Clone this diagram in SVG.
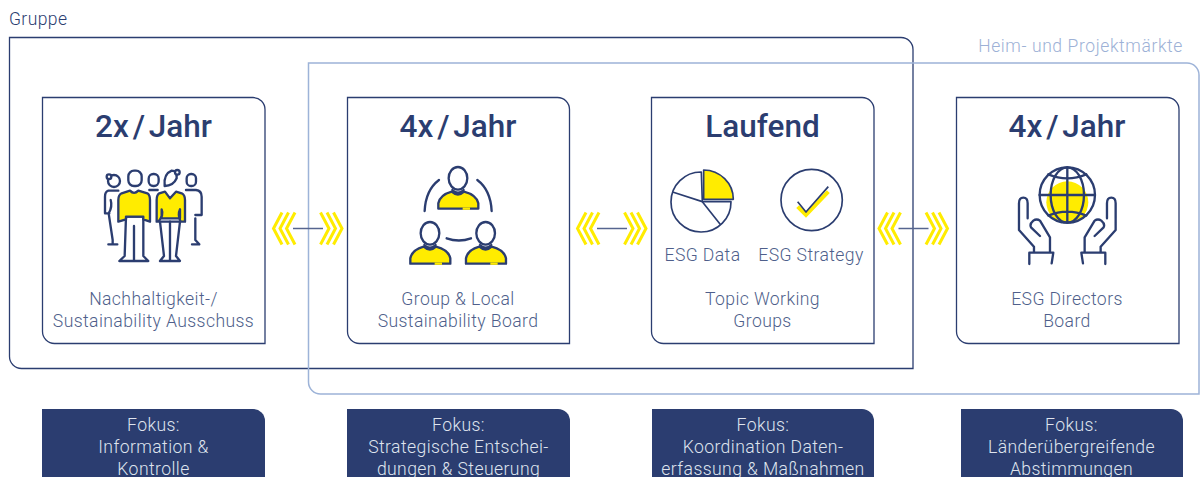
<svg xmlns="http://www.w3.org/2000/svg" xmlns:xlink="http://www.w3.org/1999/xlink" width="1200" height="477" viewBox="0 0 1200 477">
<style>
text{font-family:"Roboto","Liberation Sans",sans-serif;text-anchor:middle}
.t{font-size:31.500px;font-weight:500;fill:#2b3d70;word-spacing:-4px}
.l{font-size:17.600px;font-weight:300;fill:#4f5f8b;letter-spacing:.4px}
.f{font-size:17.600px;font-weight:300;fill:#dfe4ee;letter-spacing:.4px}
.box{fill:none;stroke:#2b3d70;stroke-width:1.3}
.fb{fill:#2b3d70}
.ic{fill:none;stroke:#2b3d70;stroke-width:7;stroke-linecap:round;stroke-linejoin:round}
.th{stroke-width:5}
.wh{fill:#fff}
.y{fill:#ffec00;stroke:none}
.ys{fill:#ffec00;stroke:#2b3d70;stroke-width:7;stroke-linejoin:round}
.chev{fill:none;stroke:#ffec00;stroke-width:3}
.cl{stroke:#56658f;stroke-width:1.5}
</style>
<defs>
<g id="conn">
<path class="chev" d="M11 -16L2.500 0L11 16M17.500 -16L9 0L17.500 16M24 -16L15.500 0L24 16M49.500 -16L58 0L49.500 16M56 -16L64.500 0L56 16M62.500 -16L71 0L62.500 16"/>
<path class="cl" d="M22 0H52"/>
</g>
<g id="pers">
<path class="ys" d="M535 176V160Q540 135 575 125Q594 142 612 125Q650 135 655 160V176Z"/>
<path d="M608 176H630" stroke="#ffec00" stroke-width="7" fill="none"/>
<ellipse class="ic wh" cx="594" cy="85" rx="28" ry="34"/>
<path class="ic" d="M577 120Q594 136 611 120"/>
</g>
</defs>

<g id="frames">
<path d="M9.500 37.500H901a12 12 0 0 1 12 12V368.500H21.500a12 12 0 0 1 -12 -12Z" fill="none" stroke="#2b3d70" stroke-width="1.300"/>
<path d="M308.500 63H1187a12 12 0 0 1 12 12V394H320.500a12 12 0 0 1 -12 -12Z" fill="none" stroke="#9db3d8" stroke-width="1.500"/>
<text x="9" y="25" style="text-anchor:start;font-size:17.500px;font-weight:300;fill:#2b3d70;letter-spacing:.4px">Gruppe</text>
<text x="1183" y="52" style="text-anchor:end;font-size:17.500px;font-weight:300;fill:#9db1d6;letter-spacing:.6px">Heim- und Projektmärkte</text>
</g>

<g id="connectors">
<use href="#conn" x="271" y="228.500"/>
<use href="#conn" x="575" y="228.500"/>
<use href="#conn" x="876.500" y="228.500"/>
</g>

<g id="node-1">
<path class="box" d="M42.500 97.500H253a12 12 0 0 1 12 12V343.500H54.500a12 12 0 0 1 -12 -12Z"/>
<text class="t" x="153.500" y="137">2x / Jahr</text>
<g transform="translate(90 150) scale(.3333)">
<path class="ic" d="M85 122H55Q45 125 45 140V190H58M62 150Q68 170 56 190L68 270V283H55H82"/>
<circle class="ic wh" cx="72" cy="93" r="18"/>
<circle class="ic wh" cx="57" cy="80" r="7"/>
<rect class="ic" x="176" y="72" width="30" height="36" rx="14"/>
<path class="ic" d="M178 120H203"/>
<rect class="ic" x="290" y="72" width="28" height="36" rx="13"/>
<path class="ic" d="M288 120H318Q335 122 335 140V195H316M316 205V270L328 283H306"/>
<path class="ic wh" d="M108 200L104 318L88 333H175L160 318V200Z"/>
<path class="ic" d="M132 228V330"/>
<path class="ys" d="M120 122Q132 135 145 122L172 130Q180 135 180 150V215L160 208V200H108V208L85 215V150Q85 135 95 130Z"/>
<rect class="ic wh" x="115" y="62" width="40" height="46" rx="17"/>
<path class="ic wh" d="M210 215L222 318L210 333H270L258 318L270 215Z"/>
<path class="ic" d="M240 215V330"/>
<path class="ys" d="M225 125L240 145L258 125L275 130Q285 135 285 150V215H272Q262 195 270 178V205H215V178Q222 195 205 215H200V150Q200 135 208 130Z"/>
<path class="ic wh" d="M224 108Q220 72 245 62Q262 62 260 85Q250 108 224 108Z"/>
<circle class="ic wh" cx="262" cy="67" r="7"/>
</g>
<text class="l" x="153.500" y="305">Nachhaltigkeit-/</text>
<text class="l" x="153.500" y="327">Sustainability Ausschuss</text>
</g>

<g id="node-2">
<path class="box" d="M347.500 97.500H557.500a12 12 0 0 1 12 12V343.500H359.500a12 12 0 0 1 -12 -12Z"/>
<text class="t" x="458" y="137">4x / Jahr</text>
<g transform="translate(260 150) scale(.3333)">
<use href="#pers"/>
<use href="#pers" x="-84" y="165"/>
<use href="#pers" x="83" y="165"/>
<path class="ic" d="M537 90Q497 120 494 183M652 90Q692 120 695 183"/>
<path class="ic" d="M560 265Q597 278 633 265"/>
</g>
<text class="l" x="458" y="305">Group &amp; Local</text>
<text class="l" x="458" y="327">Sustainability Board</text>
</g>

<g id="node-3">
<path class="box" d="M651.500 97.500H862a12 12 0 0 1 12 12V343.500H663.500a12 12 0 0 1 -12 -12Z"/>
<text class="t" x="762.500" y="137">Laufend</text>
<g transform="translate(570 150) scale(.3333)">
<path class="ic th" d="M394 66A90 90 0 1 0 483 155H397Z"/>
<path class="ic th" d="M397 155L310 127M397 155L450 222"/>
<path class="ys" style="stroke-width:5" d="M401 60V148H490A90 88 0 0 0 401 60Z"/>
<circle class="ic th" cx="725" cy="150" r="92"/>
<path d="M683 170L708 195L775 125" fill="none" stroke="#ffec00" stroke-width="12"/>
<path class="ic th" d="M683 155L708 186L775 110" style="stroke-linecap:butt"/>
</g>
<text class="l" x="702.500" y="261">ESG Data</text>
<text class="l" x="811" y="261">ESG Strategy</text>
<text class="l" x="762.500" y="305">Topic Working</text>
<text class="l" x="762.500" y="327">Groups</text>
</g>

<g id="node-4">
<path class="box" d="M956.500 97.500H1167a12 12 0 0 1 12 12V343.500H968.500a12 12 0 0 1 -12 -12Z"/>
<text class="t" x="1067" y="137">4x / Jahr</text>
<g transform="translate(870 150) scale(.3333)">
<circle class="y" cx="592" cy="157" r="63"/>
<circle class="ic" cx="592" cy="135" r="83"/>
<ellipse class="ic" cx="592" cy="135" rx="50" ry="83"/>
<path class="ic" d="M592 52V218M509 135H675M535 73Q592 97 649 73M535 197Q592 173 649 197"/>
<path class="ic" d="M473 205V160Q473 143 460 143Q447 143 447 160V240L492 290V305M510 258L483 232Q478 222 490 212Q500 205 510 212L540 262V305M478 342V308H550L545 340"/>
<path class="ic" d="M711 205V160Q711 143 724 143Q737 143 737 160V240L692 290V305M674 258L701 232Q706 222 694 212Q684 205 674 212L644 262V305M706 342V308H634L639 340"/>
</g>
<text class="l" x="1067" y="305">ESG Directors</text>
<text class="l" x="1067" y="327">Board</text>
</g>

<g id="focus-1">
<path class="fb" d="M42 409H253a12 12 0 0 1 12 12V490H54a12 12 0 0 1 -12 -12Z"/>
<text class="f" x="153.500" y="431">Fokus:</text><text class="f" x="153.500" y="453">Information &amp;</text><text class="f" x="153.500" y="475">Kontrolle</text>
</g>
<g id="focus-2">
<path class="fb" d="M347 409H558a12 12 0 0 1 12 12V490H359a12 12 0 0 1 -12 -12Z"/>
<text class="f" x="458.500" y="431">Fokus:</text><text class="f" x="458.500" y="453">Strategische Entschei-</text><text class="f" x="458.500" y="475">dungen &amp; Steuerung</text>
</g>
<g id="focus-3">
<path class="fb" d="M652 409H862a12 12 0 0 1 12 12V490H664a12 12 0 0 1 -12 -12Z"/>
<text class="f" x="763" y="431">Fokus:</text><text class="f" x="763" y="453">Koordination Daten-</text><text class="f" x="763" y="475">erfassung &amp; Maßnahmen</text>
</g>
<g id="focus-4">
<path class="fb" d="M961 409H1171a12 12 0 0 1 12 12V490H973a12 12 0 0 1 -12 -12Z"/>
<text class="f" x="1071.500" y="431">Fokus:</text><text class="f" x="1071.500" y="453">Länderübergreifende</text><text class="f" x="1071.500" y="475">Abstimmungen</text>
</g>
</svg>
